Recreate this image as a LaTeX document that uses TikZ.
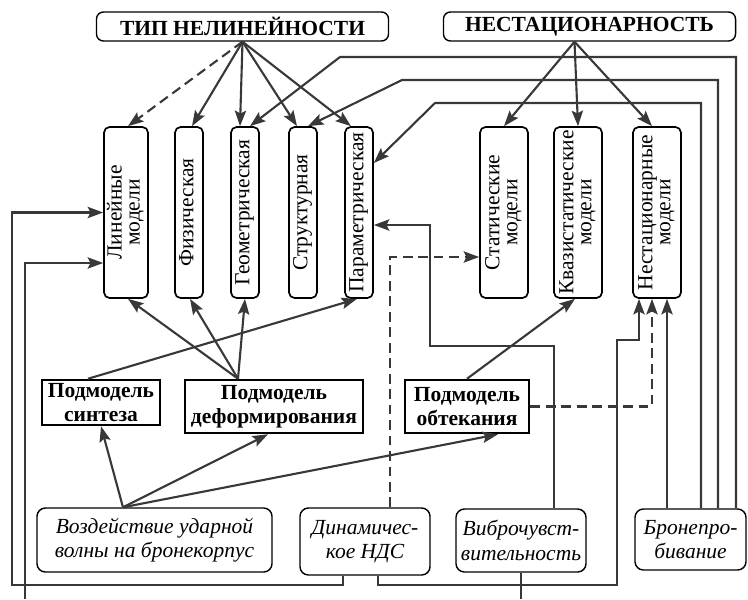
\documentclass[tikz,border=0pt]{standalone}
\usepackage{fontspec}
\setmainfont{Liberation Serif}
\usepackage{graphicx}
\usetikzlibrary{arrows.meta,calc}
\newcommand{\dsize}{\fontsize{15.3}{17.3}\selectfont}
\newcommand{\vtext}[1]{\rotatebox{90}{\renewcommand{\arraystretch}{0.74}\begin{tabular}{@{}c@{}}#1\end{tabular}}}
\tikzset{
	line/.style = {draw=black!78, line width=1.5pt},
	arr/.style = {line, -{Stealth[length=11pt, width=8pt, inset=2pt]}},
	dashline/.style = {dash pattern=on 7pt off 4pt},
	head/.style = {draw, rounded corners=5pt, line width=1pt, font={\dsize\bfseries}, minimum width=7.3cm, minimum height=0.725cm, inner sep=0pt},
	vbox/.style = {draw, rounded corners=4pt, line width=1.2pt, font=\dsize, minimum height=4.275cm, inner sep=0pt},
	sub/.style = {draw, line width=1.8pt, font={\dsize\bfseries}, align=center, inner sep=0pt},
	src/.style = {draw, rounded corners=6pt, line width=1pt, font={\dsize\itshape}, align=center, inner sep=0pt}
}

\begin{document}
\begin{tikzpicture}[x=0.025cm, y=-0.025cm]
		\useasboundingbox (0,0) rectangle (748,599);
		% заголовки
		\node [head] (nonlin) at (242.5,26.5) {ТИП НЕЛИНЕЙНОСТИ};
		\node [head] (unsteady) at (589.5,26.5) {НЕСТАЦИОНАРНОСТЬ};
		% модели
		\node [vbox, minimum width=1.1cm] (lin) at (126,212.5) {\vtext{Линейные\\модели}};
		\node [vbox, minimum width=0.7cm] (phys) at (189,212.5) {\vtext{Физическая}};
		\node [vbox, minimum width=0.7cm] (geom) at (245,212.5) {\vtext{Геометрическая}};
		\node [vbox, minimum width=0.7cm] (struct) at (303,212.5) {\vtext{Структурная}};
		\node [vbox, minimum width=0.7cm] (param) at (359,212.5) {\vtext{Параметрическая}};
		\node [vbox, minimum width=1.2cm] (stat) at (504,212.5) {\vtext{Статические\\модели}};
		\node [vbox, minimum width=1.2cm] (quasi) at (578,212.5) {\vtext{Квазистатические\\модели}};
		\node [vbox, minimum width=1.2cm] (nonst) at (657,212.5) {\vtext{Нестационарные\\модели}};
		% подмодели
		\node [sub, minimum width=2.95cm, minimum height=1.125cm] (synth) at (101,402.5) {Подмодель\\синтеза};
		\node [sub, minimum width=4.45cm, minimum height=1.325cm] (deform) at (274,406.5) {Подмодель\\деформирования};
		\node [sub, minimum width=3.1cm, minimum height=1.325cm] (flow) at (467,406.5) {Подмодель\\обтекания};
		% воздействия
		\node [src, minimum width=5.875cm, minimum height=1.6cm] (impact) at (154.5,540) {Воздействие ударной\\волны на бронекорпус};
		\node [src, minimum width=3.25cm, minimum height=1.675cm] (dyn) at (365,541.5) {Динамичес-\\кое НДС};
		\node [src, minimum width=3.25cm, minimum height=1.575cm] (vibro) at (521,540.5) {Виброчувст-\\вительность};
		\node [src, minimum width=2.775cm, minimum height=1.525cm] (pen) at (690.5,539.5) {Бронепро-\\бивание};
		\coordinate (lin-feed) at (25,599);
		\coordinate (vibro-out) at (521,599);
		% стрелки от заголовков
		\draw [arr, dashline] (nonlin.south) -- ($(lin.north)+(2,0)$);
		\draw [arr] (nonlin.south) -- ($(phys.north)+(3,0)$);
		\draw [arr] (nonlin.south) -- ($(geom.north)+(-5,0)$);
		\draw [arr] (nonlin.south) -- ($(struct.north)+(-6,0)$);
		\draw [arr] (nonlin.south) -- ($(param.north)+(-8,0)$);
		\draw [arr] ($(unsteady.south)+(-15,0)$) -- (stat.north);
		\draw [arr] ($(unsteady.south)+(-15,0)$) -- (quasi.north);
		\draw [arr] ($(unsteady.south)+(-15,0)$) -- ($(nonst.north)+(-5,0)$);
		% бронепробивание
		\draw [arr] ($(pen.north)+(45.5,0)$) |- (340,57) -- ($(geom.north)+(5,0)$);
		\draw [arr] ($(pen.north)+(27.5,0)$) |- (402,80) -- ($(struct.north)+(5,0)$);
		\draw [arr] ($(pen.north)+(10.5,0)$) |- (435,103) -- ($(param.east)+(0,-49.5)$);
		\draw [arr] ($(pen.north)+(-23.5,0)$) -- ($(nonst.south)+(10,0)$);
		% подмодели -> модели
		\draw [arr] ($(deform.north)+(-36,0)$) -- ($(lin.south)+(2,0)$);
		\draw [arr] ($(deform.north)+(-36,0)$) -- ($(phys.south)+(1,0)$);
		\draw [arr] ($(deform.north)+(-36,0)$) -- (geom.south);
		\draw [arr] ($(synth.north)+(-13,0)$) -- ($(param.south)+(-2,0)$);
		\draw [arr] (flow.north) -- ($(quasi.south)+(-3,0)$);
		\draw [arr, dashline] (flow.east) -| ($(nonst.south)+(-5,0)$);
		% воздействие ударной волны
		\draw [arr] ($(impact.north)+(-31.5,0)$) -- (synth.south);
		\draw [arr] ($(impact.north)+(-31.5,0)$) -- ($(deform.south)+(-6,0)$);
		\draw [arr] ($(impact.north)+(-31.5,0)$) -- ($(flow.south)+(31,0)$);
		% динамическое НДС
		\draw [arr, dashline] ($(dyn.north)+(25,0)$) |- ($(stat.west)+(0,44.5)$);
		\draw [arr] ($(dyn.south)+(-22,0)$) |- (12,585) |- (lin.west);
		\draw [arr] ($(dyn.south)+(13,0)$) |- (617,585) -- (617,340) -| ($(nonst.south)+(-18,0)$);
		% виброчувствительность
		\draw [arr] ($(vibro.north)+(33,0)$) |- (430,346) |- ($(param.east)+(0,12.5)$);
		\draw [line] (vibro.south) -- (vibro-out);
		\draw [arr] (lin-feed) |- ($(lin.west)+(0,50.5)$);
	\end{tikzpicture}
\end{document}
